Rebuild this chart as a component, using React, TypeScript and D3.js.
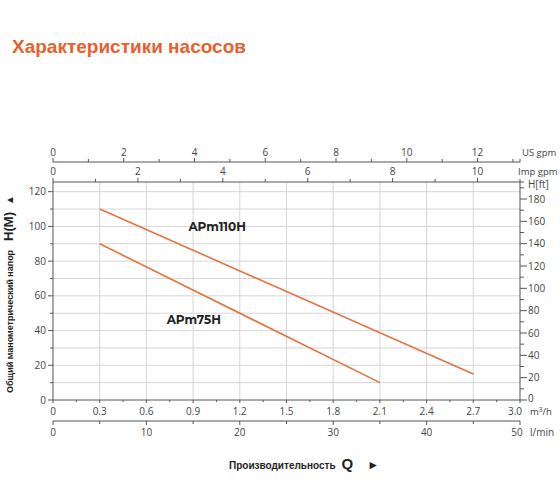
import React from 'react';
import * as d3 from 'd3';

// Pump curves: flow (m3/h) vs head (m)
const pumpNames = ['APm110H', 'APm75H'];
const flowPoints = [[0.3, 2.7], [0.3, 2.1]];
const headPoints = [[110, 15], [90, 10]];
const curveLabelPos = [[0.87, 97.5], [0.73, 43.5]]; // [m3/h, m]

const flowTicks = [0, 0.3, 0.6, 0.9, 1.2, 1.5, 1.8, 2.1, 2.4, 2.7, 3.0];
const lminTicks = [0, 10, 20, 30, 40, 50];
const usGpmTicks = [0, 2, 4, 6, 8, 10, 12];
const impGpmTicks = [0, 2, 4, 6, 8, 10];
const headTicks = [0, 20, 40, 60, 80, 100, 120];
const ftTicks = [0, 20, 40, 60, 80, 100, 120, 140, 160, 180];

const ORANGE = '#e4743f';
const AXIS = '#555';
const GRID = '#d6d6d6';
const FONT = '"Open Sans", Lato, sans-serif';

export default function App() {
  const left = 53;
  const right = 520;
  const bottom = 400;
  const top = 182;

  const x = d3.scaleLinear().domain([0, 3.0]).range([left, right]);
  const y = d3.scaleLinear().domain([0, 120]).range([bottom, 191.7]);
  const yFt = d3.scaleLinear().domain([0, 180]).range([bottom, 199]);
  const xUs = d3.scaleLinear().domain([0, 13.2]).range([left, right]);
  const xImp = d3.scaleLinear().domain([0, 11.0]).range([left, right]);
  const xL = d3.scaleLinear().domain([0, 50]).range([left, right]);

  const line = d3.line<[number, number]>().x(d => x(d[0])).y(d => y(d[1]));

  const usY = 162;
  const impY = 182;
  const lY = 421;

  const tickLabel = { fontFamily: FONT, fontSize: 10, fill: '#444' } as const;

  return (
    <svg width={560} height={504} style={{ position: 'absolute', left: 0, top: 0 }}>
      <text x={12} y={53} fontFamily="Liberation Sans, Arial, sans-serif" fontWeight="bold"
        fontSize={19} fill="#e8612c">Характеристики насосов</text>

      {/* grid */}
      {d3.range(10, 126, 10).map(v => (
        <line key={'h' + v} x1={left} x2={right} y1={y(v)} y2={y(v)} stroke={GRID} strokeWidth={1} />
      ))}
      {flowTicks.slice(1, -1).map(v => (
        <line key={'v' + v} x1={x(v)} x2={x(v)} y1={top} y2={bottom} stroke={GRID} strokeWidth={1} />
      ))}

      {/* US gpm axis */}
      <line x1={left} x2={right} y1={usY} y2={usY} stroke={AXIS} />
      {d3.range(0, 14, 1).map(v => (
        <line key={'us' + v} x1={xUs(v)} x2={xUs(v)} y1={usY} y2={usY - (v % 2 === 0 ? 4 : 3)} stroke={AXIS} />
      ))}
      <line x1={right} x2={right} y1={usY} y2={usY - 3} stroke={AXIS} />
      {usGpmTicks.map(v => (
        <text key={'ust' + v} x={xUs(v)} y={usY - 6} textAnchor="middle" {...tickLabel}>{v}</text>
      ))}
      <text x={522} y={usY - 6} {...tickLabel} fontSize={9.5}>US gpm</text>

      {/* Imp gpm axis */}
      <line x1={left} x2={right} y1={impY} y2={impY} stroke={AXIS} />
      {d3.range(0, 12, 1).map(v => (
        <line key={'imp' + v} x1={xImp(v)} x2={xImp(v)} y1={impY} y2={impY - (v % 2 === 0 ? 4 : 3)} stroke={AXIS} />
      ))}
      {impGpmTicks.map(v => (
        <text key={'impt' + v} x={xImp(v)} y={impY - 7} textAnchor="middle" {...tickLabel}>{v}</text>
      ))}
      <text x={518} y={impY - 7} {...tickLabel} fontSize={9.5}>Imp gpm</text>

      {/* left axis H(m) */}
      <line x1={left} x2={left} y1={top} y2={bottom} stroke={AXIS} />
      {d3.range(0, 126, 10).map(v => (
        <line key={'lt' + v} x1={left} x2={left - (v % 20 === 0 ? 5 : 3)} y1={y(v)} y2={y(v)} stroke={AXIS} />
      ))}
      {headTicks.map(v => (
        <text key={'ltl' + v} x={left - 7} y={y(v) + 3.5} textAnchor="end" {...tickLabel}>{v}</text>
      ))}

      {/* right axis H(ft) */}
      <line x1={right} x2={right} y1={top} y2={bottom} stroke={AXIS} />
      {d3.range(0, 191, 10).map(v => (
        <line key={'rt' + v} x1={right} x2={right + (v % 20 === 0 ? 7 : 4)} y1={yFt(v)} y2={yFt(v)} stroke={AXIS} />
      ))}
      <line x1={right} x2={right + 4} y1={top} y2={top} stroke={AXIS} />
      {ftTicks.map(v => (
        <text key={'rtl' + v} x={right + 8} y={yFt(v) + (v === 0 ? 2 : 3.5)} {...tickLabel}>{v}</text>
      ))}
      <text x={right + 8} y={top + 6} {...tickLabel}>H[ft]</text>

      {/* bottom axis m3/h */}
      <line x1={left} x2={right} y1={bottom} y2={bottom} stroke={AXIS} />
      {d3.range(0, 3.01, 0.15).map((v, i) => (
        <line key={'bt' + i} x1={x(v)} x2={x(v)} y1={bottom} y2={bottom + (i % 2 === 0 ? 3 : 2)} stroke={AXIS} />
      ))}
      {flowTicks.map(v => (
        <text key={'btl' + v} x={v === 3 ? x(v) - 5 : x(v)} y={bottom + 15} textAnchor="middle" {...tickLabel}>
          {v.toFixed(v === 0 ? 0 : 1)}
        </text>
      ))}
      <text x={530} y={bottom + 15} {...tickLabel} fontSize={9.5}>m<tspan fontSize={6.5} dy={-3}>3</tspan><tspan dy={3}>/h</tspan></text>

      {/* l/min axis */}
      <line x1={left} x2={right} y1={lY} y2={lY} stroke={AXIS} />
      {d3.range(0, 51, 5).map(v => (
        <line key={'lm' + v} x1={xL(v)} x2={xL(v)} y1={lY} y2={lY + (v % 10 === 0 ? 4 : 3)} stroke={AXIS} />
      ))}
      {lminTicks.map(v => (
        <text key={'lml' + v} x={v === 50 ? xL(v) - 3 : xL(v)} y={lY + 15} textAnchor="middle" {...tickLabel}>{v}</text>
      ))}
      <text x={530} y={lY + 15} {...tickLabel}>l/min</text>

      {/* curves */}
      {pumpNames.map((name, i) => {
        const pts: [number, number][] = flowPoints[i].map((f, j) => [f, headPoints[i][j]]);
        return (
          <g key={name}>
            <path d={line(pts) || ''} fill="none" stroke={ORANGE} strokeWidth={1.6} />
            <text x={x(curveLabelPos[i][0])} y={y(curveLabelPos[i][1])} fontFamily="Montserrat, 'Open Sans', sans-serif"
              fontWeight="bold" fontSize={12} fill="#222">{name}</text>
          </g>
        );
      })}

      {/* axis titles */}
      <text transform="translate(13,393) rotate(-90)" fontFamily="Liberation Sans, Arial, sans-serif" fontWeight="bold" fill="#222">
        <tspan fontSize={9}>Общий манометрический напор</tspan>
        <tspan fontSize={13} dx={9}>H(M)</tspan>
        <tspan fontSize={10} dx={7}>▲</tspan>
      </text>
      <text x={229} y={469} fontFamily="Liberation Sans, Arial, sans-serif" fontWeight="bold" fill="#222">
        <tspan fontSize={10}>Производительность</tspan>
        <tspan fontSize={15} dx={6}>Q</tspan>
        <tspan fontSize={12} dx={14}>►</tspan>
      </text>
    </svg>
  );
}
